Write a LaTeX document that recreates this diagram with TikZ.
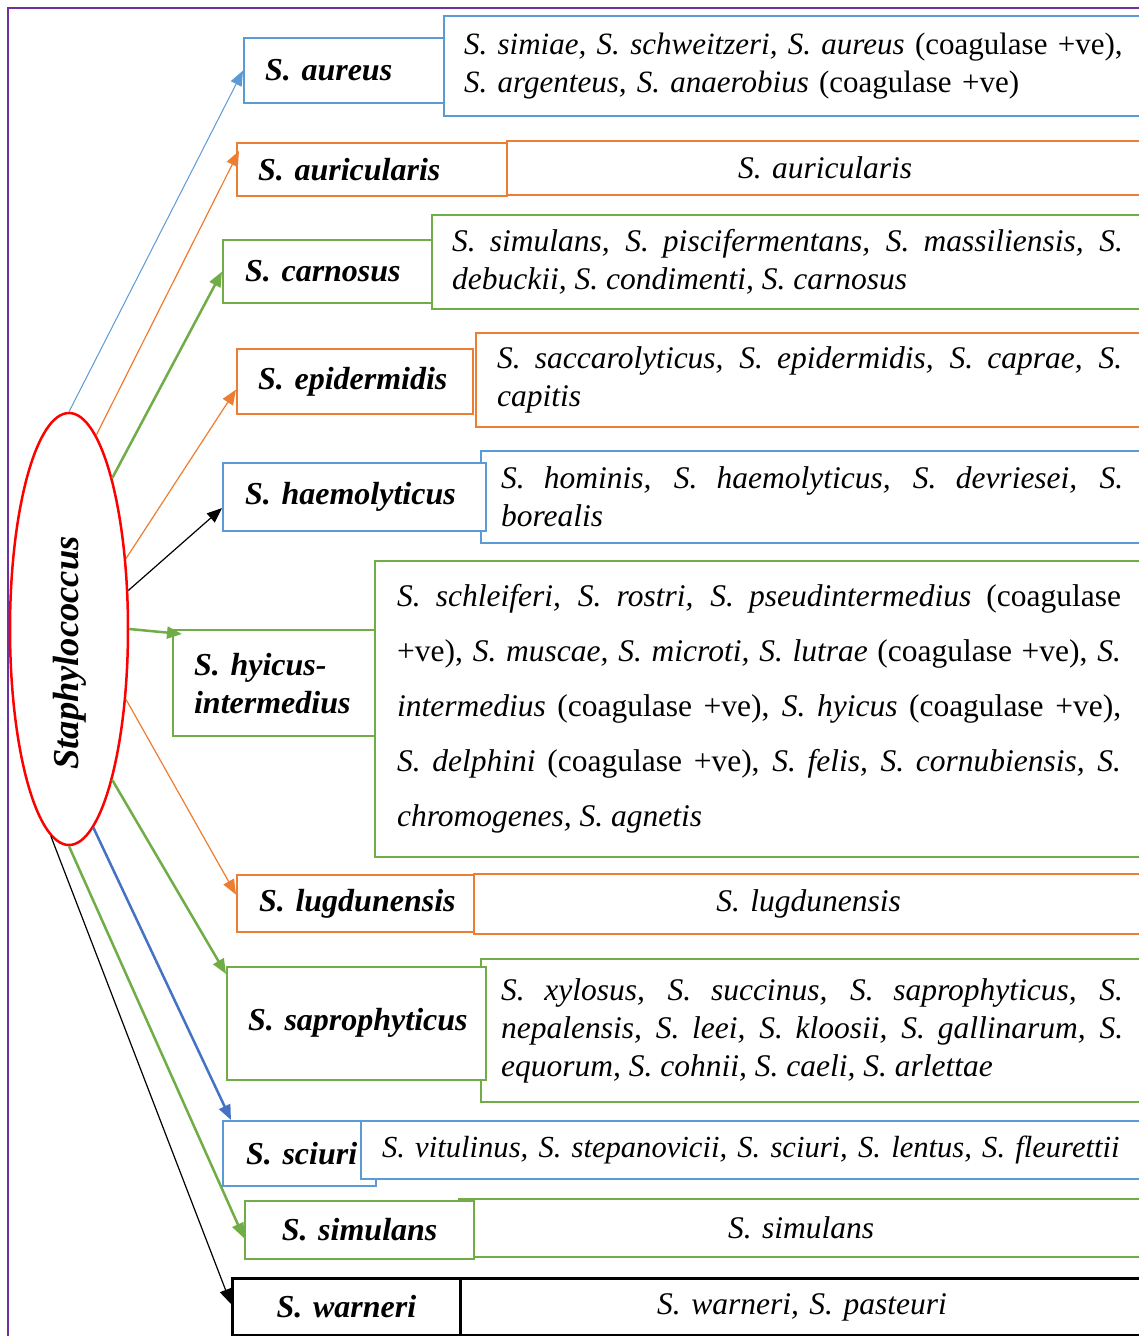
\documentclass[tikz,border=0pt]{standalone}
\usepackage{fontspec}
\setmainfont{Liberation Serif}
\usetikzlibrary{shapes.geometric,arrows.meta,calc}
\definecolor{cblue}{HTML}{5B9BD5}
\definecolor{corange}{HTML}{ED7D31}
\definecolor{cgreen}{HTML}{70AD47}
\definecolor{cdblue}{HTML}{4472C4}
\definecolor{cpurple}{HTML}{7030A0}
\hyphenpenalty=10000
\exhyphenpenalty=10000
\hbadness=10000
\hfuzz=200pt
\begin{document}
\begin{tikzpicture}[x=1pt,y=-1pt,
  lbox/.style={draw, line width=2.2pt, fill=white, anchor=north west, inner ysep=0pt, align=left,
    font=\fontsize{32}{38}\selectfont\bfseries\itshape},
  rbox/.style={draw, line width=2.2pt, fill=white, anchor=north west, inner ysep=0pt, align=justify,
    font=\fontsize{31.5}{38}\selectfont},
  arrthin/.style={line width=1.2pt, -{Triangle[length=15pt,width=12pt]}},
  arrthick/.style={line width=2.5pt, -{Triangle[length=15pt,width=12pt]}}]
\useasboundingbox (0,0) rectangle (1139,1336);
\clip (0,0) rectangle (1139,1336);
\fill[white] (0,0) rectangle (1139,1336);
\draw[cpurple, line width=1.6pt] (8,1345) -- (8,8) -- (1150,8);

% aureus
\node[rbox, draw=cblue, align=left, inner xsep=20pt, text width=659pt, minimum height=100pt,
  font=\fontsize{31}{38}\selectfont] (aR) at (443,15)
 {\textit{S. simiae, S. schweitzeri, S. aureus} (coagulase~+ve),\\ \textit{S. argenteus, S. anaerobius} (coagulase~+ve)};
\node[lbox, draw=cblue, inner xsep=21pt, text width=158pt, minimum height=65pt] (aL) at (243,37) {S.~aureus};

% auricularis
\node[rbox, draw=corange, align=center, inner xsep=20pt, text width=596pt, minimum height=54pt] (bR) at (506,140)
 {\textit{S. auricularis}};
\node[lbox, draw=corange, inner xsep=21pt, text width=228pt, minimum height=53pt] (bL) at (236,142) {S.~auricularis};

% carnosus
\node[rbox, draw=cgreen, inner xsep=20pt, text width=671pt, minimum height=94pt] (cR) at (431,214)
 {\textit{S. simulans, S. piscifermentans, S. massiliensis, S.}\linebreak \textit{debuckii, S. condimenti, S. carnosus}};
\node[lbox, draw=cgreen, inner xsep=22pt, text width=165pt, minimum height=63pt] (cL) at (222,239) {S.~carnosus};

% epidermidis
\node[rbox, draw=corange, inner xsep=21pt, text width=625pt, minimum height=94pt] (dR) at (475,332)
 {\textit{S. saccarolyticus, S. epidermidis, S. caprae, S.}\linebreak \textit{capitis}};
\node[lbox, draw=corange, inner xsep=21pt, text width=194pt, minimum height=65pt] (dL) at (236,348) {S.~epidermidis};

% haemolyticus
\node[rbox, draw=cblue, inner xsep=20pt, text width=622pt, minimum height=92pt] (eR) at (480,450)
 {\textit{S. hominis, S. haemolyticus, S. devriesei, S.}\linebreak \textit{borealis}};
\node[lbox, draw=cblue, inner xsep=22pt, text width=219pt, minimum height=68pt] (eL) at (222,462) {S.~haemolyticus};

% hyicus-intermedius
\node[rbox, draw=cgreen, inner xsep=22pt, text width=724pt, minimum height=296pt,
  font=\fontsize{31.5}{55}\selectfont] (fR) at (374,560)
 {\textit{S. schleiferi, S. rostri, S. pseudintermedius} (coagulase\linebreak
  +ve), \textit{S. muscae, S. microti, S. lutrae} (coagulase +ve), \textit{S.}\linebreak
  \textit{intermedius} (coagulase +ve), \textit{S. hyicus} (coagulase +ve),\linebreak
  \textit{S. delphini} (coagulase +ve), \textit{S. felis, S. cornubiensis, S.}\linebreak
  \textit{chromogenes, S. agnetis}};
\node[lbox, draw=cgreen, inner xsep=21pt, text width=160pt, minimum height=106pt] (fL) at (172,629) {S.~hyicus-\\intermedius};

% lugdunensis
\node[rbox, draw=corange, align=center, inner xsep=20pt, text width=629pt, minimum height=60pt] (gR) at (473,873)
 {\raisebox{-6pt}{\textit{S. lugdunensis}}};
\node[lbox, draw=corange, inner xsep=22pt, text width=193pt, minimum height=57pt] (gL) at (236,874) {S.~lugdunensis};

% saprophyticus
\node[rbox, draw=cgreen, inner xsep=20pt, text width=622pt, minimum height=143pt] (hR) at (480,958)
 {\textit{S. xylosus, S. succinus, S. saprophyticus, S.}\linebreak
  \textit{nepalensis, S. leei, S. kloosii, S. gallinarum, S.}\linebreak
  \textit{equorum, S. cohnii, S. caeli, S. arlettae}};
\node[lbox, draw=cgreen, inner xsep=21pt, text width=217pt, minimum height=113pt] (hL) at (226,966) {\raisebox{9pt}{S.~saprophyticus}};

% sciuri
\node[lbox, draw=cblue, inner xsep=23pt, text width=107pt, minimum height=65pt] (iL) at (222,1120) {S.~sciuri};
\node[rbox, draw=cblue, align=left, inner xsep=21pt, text width=740pt, minimum height=58pt,
  font=\fontsize{30.6}{38}\selectfont] (iR) at (360,1120)
 {\raisebox{-4pt}{\textit{S.~vitulinus, S.~stepanovicii, S.~sciuri, S.~lentus, S.~fleurettii}}};

% simulans
\node[rbox, draw=cgreen, align=center, inner xsep=20pt, text width=644pt, minimum height=58pt] (jR) at (458,1198)
 {\textit{S. simulans}};
\node[lbox, draw=cgreen, align=center, inner xsep=10pt, text width=209pt, minimum height=58pt] (jL) at (244,1200) {S.~simulans};

% warneri
\node[rbox, draw=black, line width=3pt, align=center, inner xsep=20pt, text width=643pt, minimum height=57pt] (kR) at (459,1277)
 {\raisebox{-2pt}{\textit{S. warneri, S. pasteuri}}};
\node[lbox, draw=black, line width=3pt, align=center, inner xsep=10pt, text width=208pt, minimum height=57pt] (kL) at (231,1277) {S.~warneri};

% central ellipse
\node[ellipse, draw=red, line width=2.5pt, minimum width=118pt, minimum height=432pt, inner sep=0pt] (st) at (69,629) {};
\node[rotate=90, font=\fontsize{36.5}{36.5}\selectfont\bfseries\itshape] (stx) at (70,653) {Staphylococcus};

% connectors
\draw[arrthin, cblue, line width=1pt] (st.90) -- (aL.west);
\draw[arrthin, corange] (st.82) -- ($(bL.north west)+(3,9)$);
\draw[arrthick, cgreen] (st.74) -- (cL.west);
\draw[arrthin, corange] (st.51) -- ($(dL.west)+(0,8)$);
\draw[arrthin, black] (st.33) -- ($(eL.west)+(0,11)$);
\draw[arrthick, cgreen] (st.0) -- ($(fL.north west)+(10,5)$);
\draw[arrthin, corange] (st.-51) -- ($(gL.west)+(0,-9)$);
\draw[arrthick, cgreen] (st.-74) -- ($(hL.north west)+(0,8)$);
\draw[arrthick, cdblue] (st.-83) -- ($(iL.north west)+(9,0)$);
\draw[arrthick, cgreen] (st.-90) -- ($(jL.west)+(0,8)$);
\draw[arrthin, black] (st.-95) -- ($(kL.west)+(0,-3)$);
\end{tikzpicture}
\end{document}
